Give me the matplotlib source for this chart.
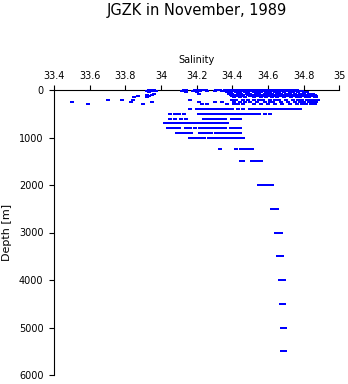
import matplotlib
matplotlib.use("Agg")
import matplotlib.pyplot as plt

# ---- data: salinity samples at each standard depth (m) ----
sal_0 = [33.93, 33.96, 34.13, 34.19, 34.22, 34.25, 34.31, 34.33, 34.36, 34.38, 34.40, 34.42,
         34.44, 34.46, 34.48, 34.50, 34.52, 34.54, 34.56, 34.58, 34.60, 34.62, 34.64, 34.66,
         34.68, 34.72, 34.76]
sal_10 = [33.94, 34.14, 34.20, 34.24, 34.32, 34.37, 34.39, 34.41, 34.43, 34.45, 34.47, 34.49,
          34.51, 34.53, 34.55, 34.57, 34.59, 34.61, 34.63, 34.65, 34.67, 34.70, 34.74]
sal_20 = [33.92, 33.97, 34.12, 34.18, 34.21, 34.26, 34.30, 34.34, 34.36, 34.385, 34.41, 34.43,
          34.455, 34.48, 34.50, 34.52, 34.545, 34.57, 34.59, 34.615, 34.64, 34.66, 34.69,
          34.73, 34.78]
sal_30 = [33.95, 34.13, 34.22, 34.37, 34.39, 34.41, 34.44, 34.46, 34.49, 34.51, 34.53, 34.56,
          34.58, 34.60, 34.63, 34.65, 34.68, 34.71, 34.75, 34.79]
sal_50 = [33.93, 34.14, 34.20, 34.37, 34.39, 34.42, 34.44, 34.47, 34.49, 34.52, 34.54, 34.56,
          34.59, 34.61, 34.64, 34.66, 34.69, 34.72, 34.74, 34.77, 34.80, 34.82]
sal_75 = [33.96, 34.21, 34.38, 34.40, 34.43, 34.45, 34.48, 34.50, 34.53, 34.55, 34.58, 34.60,
          34.62, 34.65, 34.67, 34.70, 34.72, 34.75, 34.78, 34.80, 34.83, 34.85]
sal_100 = [33.92, 33.95, 34.39, 34.41, 34.44, 34.46, 34.49, 34.52, 34.54, 34.57, 34.60, 34.63,
           34.66, 34.68, 34.71, 34.73, 34.76, 34.79, 34.81, 34.84, 34.86]
sal_125 = [33.87, 33.93, 34.40, 34.43, 34.45, 34.50, 34.53, 34.55, 34.58, 34.61, 34.64, 34.67,
           34.70, 34.72, 34.74, 34.77, 34.80, 34.82, 34.85, 34.87]
sal_150 = [33.85, 33.92, 34.41, 34.44, 34.47, 34.52, 34.56, 34.59, 34.62, 34.65, 34.69, 34.73,
           34.76, 34.78, 34.81, 34.83, 34.86, 34.87]
sal_200 = [33.70, 33.78, 33.84, 34.16, 34.40, 34.42, 34.46, 34.49, 34.52, 34.55, 34.57, 34.61,
           34.64, 34.66, 34.70, 34.74, 34.77, 34.79, 34.82, 34.84, 34.86, 34.88]
sal_250 = [33.50, 33.83, 33.95, 34.21, 34.30, 34.34, 34.41, 34.44, 34.47, 34.50, 34.54, 34.58,
           34.61, 34.63, 34.67, 34.71, 34.75, 34.78, 34.80, 34.83, 34.85, 34.87]
sal_300 = [33.59, 33.90, 34.23, 34.26, 34.37, 34.41, 34.43, 34.46, 34.52, 34.56, 34.60, 34.64,
           34.68, 34.72, 34.76, 34.79, 34.81, 34.84, 34.86]
sal_400 = [34.16, 34.20, 34.22, 34.24, 34.26, 34.28, 34.30, 34.32, 34.34, 34.36, 34.38, 34.40,
           34.43, 34.46, 34.50, 34.52, 34.54, 34.56, 34.58, 34.60, 34.62, 34.64, 34.66, 34.68,
           34.70, 34.72, 34.74, 34.76, 34.78]
sal_500 = [34.05, 34.08, 34.10, 34.13, 34.21, 34.23, 34.25, 34.27, 34.29, 34.31, 34.33, 34.35,
           34.37, 34.39, 34.41, 34.43, 34.45, 34.47, 34.49, 34.51, 34.53, 34.55, 34.58, 34.61]
sal_600 = [34.05, 34.08, 34.11, 34.14, 34.24, 34.26, 34.28, 34.30, 34.32, 34.34, 34.36, 34.40,
           34.42, 34.44]
sal_700 = [34.02, 34.04, 34.06, 34.08, 34.10, 34.12, 34.14, 34.16, 34.18, 34.20, 34.22, 34.24,
           34.26, 34.28, 34.30, 34.32, 34.34, 34.36, 34.37]
sal_800 = [34.04, 34.06, 34.08, 34.10, 34.14, 34.16, 34.19, 34.22, 34.24, 34.26, 34.28, 34.30,
           34.32, 34.34, 34.36, 34.39, 34.40, 34.42, 34.44]
sal_900 = [34.09, 34.11, 34.13, 34.15, 34.17, 34.22, 34.24, 34.26, 34.28, 34.31, 34.33, 34.35,
           34.36, 34.38, 34.40, 34.42, 34.44]
sal_1000 = [34.16, 34.18, 34.20, 34.22, 34.24, 34.27, 34.29, 34.31, 34.33, 34.35, 34.37, 34.39,
            34.41, 34.43, 34.45, 34.46]
sal_1250 = [34.33, 34.42, 34.45, 34.47, 34.49, 34.51]
sal_1500 = [34.45, 34.46, 34.51, 34.53, 34.545, 34.56]
sal_2000 = [34.55, 34.57, 34.585, 34.60, 34.62]
sal_2500 = [34.62, 34.635, 34.65]
sal_3000 = [34.645, 34.655, 34.67]
sal_3500 = [34.656, 34.668, 34.68]
sal_4000 = [34.668, 34.68, 34.69]
sal_4500 = [34.672, 34.688]
sal_5000 = [34.678, 34.692]
sal_5500 = [34.678, 34.692]

depth_levels = [0, 10, 20, 30, 50, 75, 100, 125, 150, 200, 250, 300, 400, 500, 600, 700,
                800, 900, 1000, 1250, 1500, 2000, 2500, 3000, 3500, 4000, 4500, 5000, 5500]
salinity_levels = [sal_0, sal_10, sal_20, sal_30, sal_50, sal_75, sal_100, sal_125, sal_150,
                   sal_200, sal_250, sal_300, sal_400, sal_500, sal_600, sal_700, sal_800,
                   sal_900, sal_1000, sal_1250, sal_1500, sal_2000, sal_2500, sal_3000,
                   sal_3500, sal_4000, sal_4500, sal_5000, sal_5500]

x_ticks = [33.4, 33.6, 33.8, 34.0, 34.2, 34.4, 34.6, 34.8, 35.0]
x_tick_labels = ["33.4", "33.6", "33.8", "34", "34.2", "34.4", "34.6", "34.8", "35"]
y_ticks = [0, 1000, 2000, 3000, 4000, 5000, 6000]
y_tick_labels = ["0", "1000", "2000", "3000", "4000", "5000", "6000"]

title = "JGZK in November, 1989"
x_label = "Salinity"
y_label = "Depth [m]"

# ---- figure ----
plt.rcParams['font.family'] = ['DejaVu Sans']
fig = plt.figure(figsize=(3.48, 3.84), dpi=100)
ax = fig.add_axes([54 / 348, 1 - 375 / 384, (339.5 - 54) / 348, (375 - 90) / 384])

xs, ys = [], []
for d, vals in zip(depth_levels, salinity_levels):
    for v in vals:
        xs.append(v)
        ys.append(d)
rect_marker = [(-1.5, -1.0), (1.5, -1.0), (1.5, 1.0), (-1.5, 1.0), (-1.5, -1.0)]
ax.plot(xs, ys, linestyle='none', marker=rect_marker, markersize=3.0, markeredgewidth=0,
        color='#0000ff', clip_on=False, zorder=3)

ax.set_xlim(33.4, 35.0)
ax.set_ylim(6000, 0)
ax.xaxis.tick_top()
ax.set_xticks(x_ticks)
ax.set_xticklabels(x_tick_labels)
ax.set_yticks(y_ticks)
ax.set_yticklabels(y_tick_labels)
ax.tick_params(axis='x', direction='out', length=3.6, width=0.8, pad=3, labelsize=7)
ax.tick_params(axis='y', direction='out', length=3.6, width=0.8, pad=4, labelsize=7)

for s in ['right', 'bottom']:
    ax.spines[s].set_visible(False)
for s in ['top', 'left']:
    ax.spines[s].set_linewidth(0.8)

ax.xaxis.set_label_position('top')
ax.set_xlabel(x_label, fontsize=7, va='center')
ax.xaxis.set_label_coords(0.5, 1 + 30 / 285)
ax.set_ylabel(y_label, fontsize=8, va='center')
ax.yaxis.set_label_coords((7.5 - 54) / 285.5, 0.5)
ax.set_title(title, fontsize=10.5, y=1 + 80 / 285, va='center', pad=0)

fig.savefig("out.png", dpi=100)
